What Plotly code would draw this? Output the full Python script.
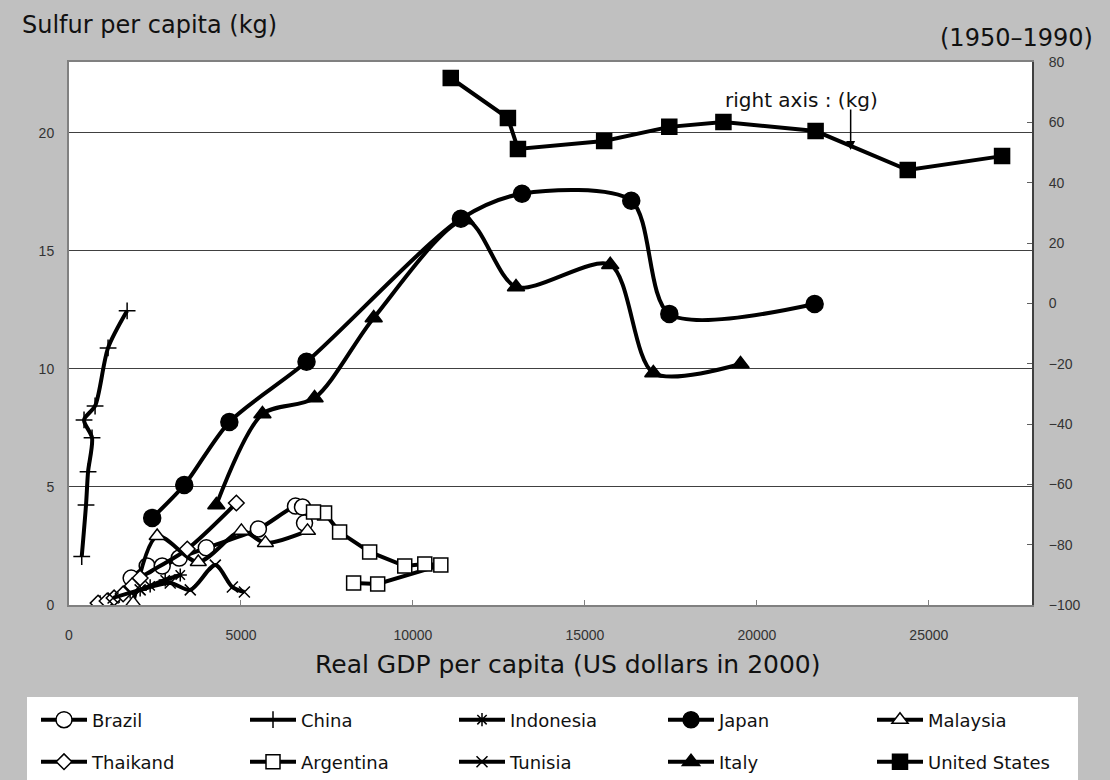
import plotly.graph_objects as go

# ---------------- data ----------------
brazil_x = [1807, 2273, 2710, 3205, 3992, 5507, 6586, 6790, 6848]
brazil_y = [1.14, 1.65, 1.65, 1.99, 2.42, 3.22, 4.19, 4.15, 3.47]

china_x = [370, 495, 554, 670, 437, 758, 1136, 1690]
china_y = [2.05, 4.24, 5.64, 7.08, 7.84, 8.43, 10.89, 12.46]

indonesia_x = [903, 1340, 1777, 2069, 2360, 2797, 3235]
indonesia_y = [0.13, 0.30, 0.55, 0.64, 0.81, 1.06, 1.27]

japan_x = [2419, 3351, 4662, 6906, 11394, 13171, 16348, 17455, 21680]
japan_y = [3.69, 5.08, 7.75, 10.30, 16.36, 17.42, 17.12, 12.33, 12.75]

malaysia_x = [1865, 2564, 3759, 5012, 5711, 6935]
malaysia_y = [0.08, 2.92, 1.82, 3.14, 2.63, 3.14]

thailand_x = [845, 1107, 1311, 1574, 1836, 2069, 3439, 4866]
thailand_y = [0.08, 0.17, 0.30, 0.47, 0.81, 1.14, 2.37, 4.32]

argentina_x = [8276, 8975, 10811, 10345, 9762, 8742, 7868, 7431, 7110]
argentina_y = [0.93, 0.89, 1.69, 1.74, 1.65, 2.25, 3.09, 3.90, 3.94]

tunisia_x = [1282, 2069, 2943, 3526, 4254, 4750, 5100]
tunisia_y = [0.30, 0.64, 0.93, 0.64, 1.69, 0.76, 0.55]

italy_x = [4284, 5624, 7140, 8859, 11540, 12997, 15737, 16990, 19525]
italy_y = [4.24, 8.09, 8.77, 12.16, 16.31, 13.47, 14.41, 9.83, 10.21]

us_x = [11100, 12762, 13054, 15560, 17454, 19028, 21708, 24388, 27130]
us_y = [74.7, 61.4, 51.2, 53.8, 58.5, 60.1, 57.1, 44.2, 48.8]

x_ticks = [0, 5000, 10000, 15000, 20000, 25000]
y_left_ticks = [0, 5, 10, 15, 20]
y_right_ticks = [-100, -80, -60, -40, -20, 0, 20, 40, 60, 80]

# ---------------- figure ----------------
fig = go.Figure()

def add(name, xs, ys, symbol, size, fill, legend, shape="spline", yaxis="y", lw=1.5):
    fig.add_trace(go.Scatter(
        x=xs, y=ys, name=name, mode="lines+markers", yaxis=yaxis, legend=legend,
        line=dict(color="black", width=4, shape=shape,
                  smoothing=0.8 if shape == "spline" else None),
        marker=dict(symbol=symbol, size=size, color=fill,
                    line=dict(color="black", width=lw)),
    ))

add("Brazil", brazil_x, brazil_y, "circle", 16, "white", "legend")
add("China", china_x, china_y, "cross-thin", 12, "black", "legend")
add("Indonesia", indonesia_x, indonesia_y, "asterisk", 11, "black", "legend")
add("Japan", japan_x, japan_y, "circle", 17, "black", "legend")
add("Malaysia", malaysia_x, malaysia_y, "triangle-up", 14, "white", "legend")
add("Thaikand", thailand_x, thailand_y, "diamond", 12, "white", "legend2")
add("Argentina", argentina_x, argentina_y, "square", 14, "white", "legend2", shape="linear")
add("Tunisia", tunisia_x, tunisia_y, "x-thin", 11, "black", "legend2")
add("Italy", italy_x, italy_y, "triangle-up", 15, "black", "legend2")
add("United States", us_x, us_y, "square", 15, "black", "legend2", shape="linear", yaxis="y2")

FONT = "DejaVu Sans"
TICKFONT = dict(family="Liberation Sans, Arial", size=14, color="#333")

L, R, T, B = 69, 78, 62, 175
W, H = 1110, 780
PW, PH = W - L - R, H - T - B

def px_x(p):  # pixel -> paper x
    return (p - L) / PW

def px_y(p):  # pixel -> paper y
    return (H - B - p) / PH

legend_common = dict(
    orientation="h", xanchor="right", x=px_x(1081), yanchor="middle",
    bgcolor="rgba(0,0,0,0)", borderwidth=0,
    font=dict(family=FONT, size=18, color="#111"),
    entrywidth=148, entrywidthmode="pixels", itemwidth=46,
)

fig.update_layout(
    width=W, height=H,
    paper_bgcolor="#c0c0c0", plot_bgcolor="white",
    margin=dict(l=L, r=R, t=T, b=B, autoexpand=False),
    showlegend=True,
    legend=dict(legend_common, y=px_y(720)),
    legend2=dict(legend_common, y=px_y(762)),
    xaxis=dict(
        range=[0, 28000], tickvals=x_ticks, tickformat="d", ticks="inside", ticklen=5,
        tickcolor="#808080", showgrid=False, zeroline=False,
        showline=True, linecolor="#808080", linewidth=2, mirror=True,
        tickfont=TICKFONT, ticklabelstandoff=16,
    ),
    yaxis=dict(
        range=[0, 23], tickvals=y_left_ticks, ticks="", showgrid=True,
        gridcolor="#404040", gridwidth=1, zeroline=False,
        showline=True, linecolor="#808080", linewidth=2,
        tickfont=TICKFONT, ticklabelstandoff=10,
    ),
    yaxis2=dict(
        range=[-100, 80], tickvals=y_right_ticks, overlaying="y", side="right",
        ticks="inside", ticklen=5, tickcolor="#606060", showgrid=False,
        zeroline=False, showline=True, linecolor="#404040", linewidth=2,
        tickfont=TICKFONT, ticklabelstandoff=12,
    ),
    title=dict(text="Sulfur per capita (kg)", x=22 / W, xanchor="left",
               xref="container", y=1 - 25 / H, yanchor="middle", yref="container",
               font=dict(family=FONT, size=24, color="#111")),
    shapes=[
        dict(type="rect", xref="paper", yref="paper", layer="above",
             x0=px_x(27), x1=px_x(1078), y0=px_y(697), y1=px_y(800),
             fillcolor="white", line=dict(width=0)),
    ],
    annotations=[
        dict(text="Real GDP per capita (US dollars in 2000)", xref="paper", yref="paper",
             x=px_x(568), y=px_y(664), xanchor="center", yanchor="middle",
             showarrow=False, font=dict(family=FONT, size=25, color="#111")),
        dict(text="(1950\u20131990)", xref="paper", yref="paper", x=px_x(1095), y=px_y(38),
             xanchor="right", yanchor="middle", showarrow=False,
             font=dict(family=FONT, size=24, color="#111")),
        dict(text="right axis : (kg)", xref="x", yref="y2", x=21300, y=67.4,
             showarrow=False, font=dict(family=FONT, size=20, color="#111")),
        dict(text="", xref="x", yref="y2", x=22727, y=50.8, ax=0, ay=-42,
             showarrow=True, arrowhead=2, arrowsize=1.2, arrowwidth=1.5,
             arrowcolor="black"),
    ],
)

fig.write_html(
    "out.html",
    config={"displayModeBar": False},
    post_script="document.body.style.margin='0';document.body.style.background='#c0c0c0';",
)
